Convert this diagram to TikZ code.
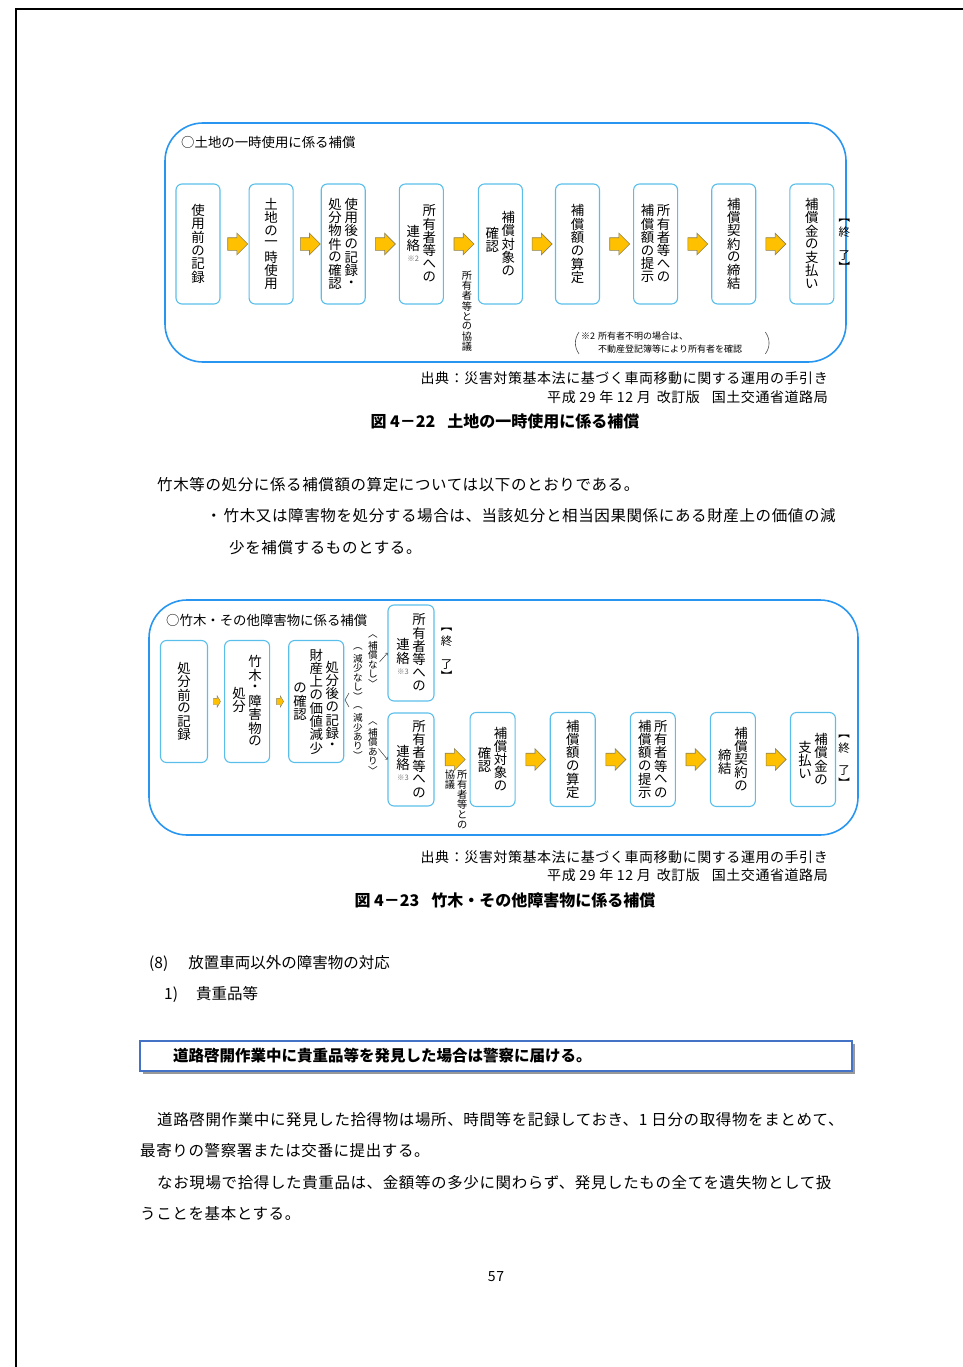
\documentclass[tikz,border=0pt]{standalone}
\usepackage{fontspec}
\setmainfont{Noto Sans CJK JP}
\newfontfamily\jpbody[LetterSpace=4]{Noto Sans CJK JP}
\usepackage{tikz}
\usetikzlibrary{positioning,calc,shapes.arrows,shadows}
\usepackage{xcolor}

\definecolor{frameblue}{RGB}{40,150,240}
\definecolor{boxblue}{RGB}{90,190,235}
\definecolor{arrowfill}{RGB}{255,192,0}
\definecolor{arrowedge}{RGB}{140,130,90}
\definecolor{lineblue}{RGB}{68,114,196}
\definecolor{notegray}{RGB}{110,110,110}

% vertical (tategaki) columns
\makeatletter
\newcommand\tcitem[1]{\hbox to 1.2em{\hss\vbox to 0.99em{\vss\hbox{#1}\vss}\hss}}
\newcommand\tcol[2][0pt]{\vtop{\offinterlineskip\kern#1\relax\@tfor\tc@x:=#2\do{\tcitem{\tc@x}}}}
\makeatother
\newcommand\kome[1]{{\fontsize{7.5}{8}\selectfont\color{notegray}#1}}

\begin{document}
\begin{tikzpicture}[x=1pt,y=-1pt,
    roundframe/.style={draw=frameblue,line width=1.6pt,rounded corners=38pt},
    flowbox/.style={rectangle,rounded corners=6pt,draw=boxblue,line width=1.1pt,minimum width=44pt,minimum height=120pt,inner sep=0pt,font=\fontsize{13.4}{14}\selectfont},
    flowboxs/.style={flowbox,minimum width=45pt,minimum height=94pt},
    blockarrow/.style={single arrow,draw=arrowedge,fill=arrowfill,line width=0.6pt,minimum height=20pt,single arrow head extend=4.5pt,inner xsep=0pt,inner ysep=6pt},
    minarrow/.style={single arrow,draw=arrowedge,fill=arrowfill,line width=0.4pt,minimum height=7pt,single arrow head extend=2.5pt,inner xsep=0pt,inner ysep=3pt,single arrow tip angle=120},
    endmark/.style={inner sep=0pt,font=\fontsize{11.5}{12}\selectfont},
    smalltate/.style={inner sep=0pt,font=\fontsize{10.2}{10}\selectfont},
    sidenote/.style={inner sep=0pt,anchor=north,font=\fontsize{9.6}{10}\selectfont},
    fork/.style={draw=black!80,line width=0.5pt},
    notebr/.style={draw=black!70,line width=0.6pt},
    txt/.style={inner sep=0pt,anchor=west},
    bodytext/.style={inner sep=0pt,anchor=west,font=\jpbody\fontsize{15.5}{16}\selectfont},
    srctext/.style={inner sep=0pt,anchor=east,font=\jpbody\fontsize{14}{15}\selectfont},
    figcap/.style={inner sep=0pt,font=\bfseries\fontsize{16}{16}\selectfont},
    alertbox/.style={draw=lineblue,line width=1.6pt,fill=white,minimum height=30pt,text width=646pt,inner xsep=33pt,align=left,font=\bfseries\fontsize{15.5}{16}\selectfont,drop shadow={shadow xshift=3pt,shadow yshift=-3pt,fill=black!40,opacity=1}}]

    \useasboundingbox (0,0) rectangle (963,1367);
    \draw [line width=1.5pt] (963,9) -- (16,9) -- (16,1367);

    % first chart
    \draw [roundframe] (165,123) rectangle (846,362);
    \node (title1) [txt,font=\fontsize{13.4}{14}\selectfont] at (181,142) {○土地の一時使用に係る補償};

    \node (s1) [flowbox] at (198,244) {\tcol{使用前の記録}};
    \node (s2) [flowbox,right=28pt of s1] {\tcol{土地の一時使用}};
    \node (s3) [flowbox,right=27pt of s2] {\tcol{処分物件の確認}\tcol{使用後の記録・}};
    \node (s4) [flowbox,right=33pt of s3] {\tcol[21pt]{連絡{\kome{※2}}}\tcol{所有者等への}};
    \node (s5) [flowbox,right=34pt of s4] {\tcol[16pt]{確認}\tcol{補償対象の}};
    \node (s6) [flowbox,right=32pt of s5] {\tcol{補償額の算定}};
    \node (s7) [flowbox,right=33pt of s6] {\tcol{補償額の提示}\tcol{所有者等への}};
    \node (s8) [flowbox,right=33pt of s7] {\tcol{補償契約の締結}};
    \node (s9) [flowbox,right=33pt of s8] {\tcol{補償金の支払い}};
    \node (end1) [endmark,right=3pt of s9] {\tcol{︻終　了︼}};

    % Arrows
    \node (a1) [blockarrow] at ($(s1.east)!0.5!(s2.west)$) {};
    \node (a2) [blockarrow] at ($(s2.east)!0.5!(s3.west)$) {};
    \node (a3) [blockarrow] at ($(s3.east)!0.5!(s4.west)$) {};
    \node (a4) [blockarrow] at ($(s4.east)!0.5!(s5.west)$) {};
    \node (a5) [blockarrow] at ($(s5.east)!0.5!(s6.west)$) {};
    \node (a6) [blockarrow] at ($(s6.east)!0.5!(s7.west)$) {};
    \node (a7) [blockarrow] at ($(s7.east)!0.5!(s8.west)$) {};
    \node (a8) [blockarrow] at ($(s8.east)!0.5!(s9.west)$) {};

    \node (kyogi1) [smalltate,below=20pt of a4,xshift=6pt] {\tcol{所有者等との協議}};

    \node (note1) [txt,font=\fontsize{9}{13}\selectfont,text width=182pt,inner xsep=4pt,align=left] at (577,343) {※2 所有者不明の場合は、\\\hphantom{※2 }不動産登記簿等により所有者を確認};
    \draw [notebr] ([xshift=2pt]note1.north west) to[bend right=35] ([xshift=2pt]note1.south west);
    \draw [notebr] ([xshift=-2pt]note1.north east) to[bend left=35] ([xshift=-2pt]note1.south east);

    \node (src1) [srctext] at (828,378) {出典：災害対策基本法に基づく車両移動に関する運用の手引き};
    \node (src1b) [srctext] at (828,397) {平成 29 年 12 月\hspace{6pt}改訂版\hspace{12pt}国土交通省道路局};
    \node (fig1) [figcap] at (505,421) {図 4－22\hspace{12pt}土地の一時使用に係る補償};

    \node (body1) [bodytext] at (157,485) {竹木等の処分に係る補償額の算定については以下のとおりである。};
    \node (body2) [bodytext] at (206,516) {・\hspace{2pt}竹木又は障害物を処分する場合は、当該処分と相当因果関係にある財産上の価値の減};
    \node (body3) [bodytext] at (229,548) {少を補償するものとする。};

    % second chart
    \draw [roundframe] (149,600) rectangle (858,835);
    \node (title2) [txt,font=\fontsize{13.4}{14}\selectfont] at (166,620) {○竹木・その他障害物に係る補償};

    \node (b1) [flowbox,minimum width=47pt,minimum height=122pt] at (184,701.5) {\tcol{処分前の記録}};
    \node (b2) [flowbox,minimum width=45pt,minimum height=122pt,right=16pt of b1] {\tcol[32pt]{処分}\tcol{竹木・障害物の}};
    \node (b3) [flowbox,minimum width=55pt,minimum height=122pt,right=18pt of b2] {\tcol[33pt]{の確認}\tcol{財産上の価値減少}\tcol[12pt]{処分後の記録・}};
    \node (b4) [flowbox,minimum width=46pt,minimum height=96pt] at (411,653) {\tcol[25pt]{連絡{\kome{※3}}}\tcol{所有者等への}};
    \node (b5) [flowbox,minimum width=46pt,minimum height=93pt] at (411,759.5) {\tcol[25pt]{連絡{\kome{※3}}}\tcol{所有者等への}};
    \node (end2) [endmark,right=5pt of b4] {\tcol{︻終　了︼}};

    \node (b6) [flowboxs,right=35pt of b5] {\tcol[20pt]{確認}\tcol{補償対象の}};
    \node (b7) [flowboxs,right=34pt of b6] {\tcol{補償額の算定}};
    \node (b8) [flowboxs,right=34pt of b7] {\tcol{補償額の提示}\tcol{所有者等への}};
    \node (b9) [flowboxs,right=34pt of b8] {\tcol[22pt]{締結}\tcol{補償契約の}};
    \node (b10) [flowboxs,right=34pt of b9] {\tcol[8pt]{支払い}\tcol{補償金の}};
    \node (end3) [endmark,right=1pt of b10] {\tcol{︻終　了︼}};

    % Arrows
    \node (p1) [minarrow] at ($(b1.east)!0.5!(b2.west)$) {};
    \node (p2) [minarrow] at ($(b2.east)!0.5!(b3.west)$) {};
    \node (p3) [blockarrow] at ($(b5.east)!0.5!(b6.west)$) {};
    \node (p4) [blockarrow] at ($(b6.east)!0.5!(b7.west)$) {};
    \node (p5) [blockarrow] at ($(b7.east)!0.5!(b8.west)$) {};
    \node (p6) [blockarrow] at ($(b8.east)!0.5!(b9.west)$) {};
    \node (p7) [blockarrow] at ($(b9.east)!0.5!(b10.west)$) {};

    \node (kyogi2) [smalltate,below=3pt of p3,xshift=4pt] {\tcol{協議}\tcol{所有者等との}};

    \node (nashi) [sidenote] at (373,631) {\tcol{︿補償なし﹀}};
    \node (gensyo1) [sidenote] at (358,644) {\tcol{︵減少なし︶}};
    \node (gensyo2) [sidenote,below=2pt of gensyo1] {\tcol{︵減少あり︶}};
    \node (ari) [sidenote] at (373,718) {\tcol{︿補償あり﹀}};
    \draw [fork] (349,693) -- (345,700) -- (349,707);
    \draw [fork,->] ($(b4.west)+(-8,9)$) -- (b4.west);
    \draw [fork,->] ($(b5.west)+(-9,-11)$) -- (b5.west);

    \node (src2) [srctext] at (828,857) {出典：災害対策基本法に基づく車両移動に関する運用の手引き};
    \node (src2b) [srctext] at (828,875) {平成 29 年 12 月\hspace{6pt}改訂版\hspace{12pt}国土交通省道路局};
    \node (fig2) [figcap] at (505,900) {図 4－23\hspace{12pt}竹木・その他障害物に係る補償};

    % section (8)
    \node (sec8) [txt,font=\fontsize{15.5}{16}\selectfont] at (149,963) {(8)\hspace{20pt}放置車両以外の障害物の対応};
    \node (sec8a) [txt,font=\fontsize{15.5}{16}\selectfont] at (164,994) {1)\hspace{18pt}貴重品等};

    \node (alert) [alertbox] at (496,1056) {道路啓開作業中に貴重品等を発見した場合は警察に届ける。};

    \node (para1) [bodytext] at (157,1120) {道路啓開作業中に発見した拾得物は場所、時間等を記録しておき、1 日分の取得物をまとめて、};
    \node (para2) [bodytext] at (140,1151) {最寄りの警察署または交番に提出する。};
    \node (para3) [bodytext] at (157,1183) {なお現場で拾得した貴重品は、金額等の多少に関わらず、発見したもの全てを遺失物として扱};
    \node (para4) [bodytext] at (140,1214) {うことを基本とする。};
    \node (pageno) [inner sep=0pt,font=\jpbody\fontsize{14}{14}\selectfont] at (496,1277) {57};

\end{tikzpicture}
\end{document}
